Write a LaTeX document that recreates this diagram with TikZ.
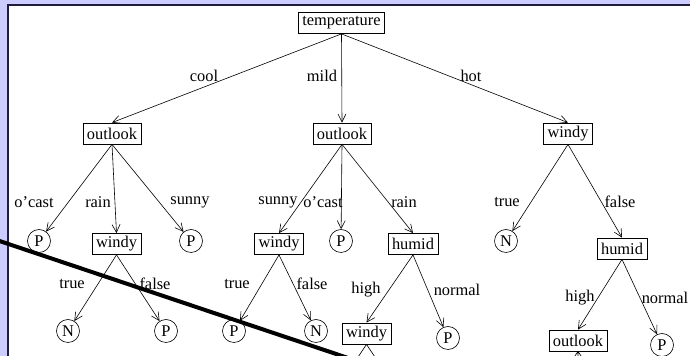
\documentclass[tikz,border=0pt]{standalone}
\usepackage{fontspec}
\setmainfont{Liberation Serif}
\usetikzlibrary{arrows.meta,shapes}
\definecolor{lavender}{RGB}{204,204,255}
\definecolor{framecol}{RGB}{30,30,60}

\begin{document}
\begin{tikzpicture}[x=0.5pt,y=-0.5pt,
  every node/.style={font=\fontsize{8.2}{10}\selectfont},
  test/.style={draw,rectangle,inner xsep=2pt,inner ysep=1pt,minimum height=10.5pt,line width=0.4pt},
  leaf/.style={draw,circle,inner sep=0pt,minimum size=11.5pt,line width=0.3pt},
  branch/.style={->,line width=0.3pt,>={Straight Barb[length=4pt,width=4pt]}},
  val/.style={inner sep=0pt}]
\useasboundingbox (0,0) rectangle (690,356);
\clip (0,0) rectangle (690,356);
% page and frame
\fill[lavender] (0,0) rectangle (690,356);
\fill[white] (8,5) rectangle (690,356);
\draw[framecol,line width=0.8pt] (8,360) -- (8,5) -- (695,5);

% tests
\node[test] (temp) at (341.5,23) {temperature};
\node[test] (ol1) at (112,133.5) {outlook};
\node[test] (ol2) at (342,133.5) {outlook};
\node[test] (wd1) at (568,133.5) {windy};
\node[test] (wd2) at (116.5,244) {windy};
\node[test] (wd3) at (279,244) {windy};
\node[test] (hu1) at (413,244) {humid};
\node[test] (hu2) at (622,248.5) {humid};
\node[test] (wd4) at (366.5,333.5) {windy};
\node[test] (ol3) at (578,340.5) {outlook};

% leaves
\node[leaf] (p1) at (39,241) {P};
\node[leaf] (p2) at (191,241) {P};
\node[leaf] (p3) at (341,241) {P};
\node[leaf] (n1) at (506,241) {N};
\node[leaf] (n2) at (68,331) {N};
\node[leaf] (p4) at (166,331) {P};
\node[leaf] (p5) at (234,331) {P};
\node[leaf] (n3) at (316,331) {N};
\node[leaf] (p6) at (448,338) {P};
\node[leaf] (p7) at (662,345) {P};

% branches
\draw[branch] (temp.south) -- (ol1.north);
\draw[branch] (temp.south) -- (ol2.north);
\draw[branch] (temp.south) -- (wd1.north);
\draw[branch] (ol1.south) -- (p1);
\draw[branch] (ol1.south) -- (wd2.north);
\draw[branch] (ol1.south) -- (p2);
\draw[branch] (ol2.south) -- (wd3.north);
\draw[branch] (ol2.south) -- (p3);
\draw[branch] (ol2.south) -- (hu1.north);
\draw[branch] (wd1.south) -- (n1);
\draw[branch] (wd1.south) -- (hu2.north);
\draw[branch] (wd2.south) -- (n2);
\draw[branch] (wd2.south) -- (p4);
\draw[branch] (wd3.south) -- (p5);
\draw[branch] (wd3.south) -- (n3);
\draw[branch] (hu1.south) -- (wd4.north);
\draw[branch] (hu1.south) -- (p6);
\draw[branch] (hu2.south) -- (ol3.north);
\draw[branch] (hu2.south) -- (p7);
% subtrees running off the page
\draw[line width=0.3pt] (wd4.south) -- +(-20,30) (wd4.south) -- +(20,30);
\draw[line width=0.3pt] (ol3.south) -- +(-20,30) (ol3.south) -- +(0,30) (ol3.south) -- +(20,30);

% branch values
\node[val] at (204,76) {cool};
\node[val] at (322,76) {mild};
\node[val] at (471,76) {hot};
\node[val] at (34,202) {o'cast};
\node[val] at (98,202) {rain};
\node[val] at (190,202) {sunny};
\node[val] at (278,202) {sunny};
\node[val] at (323,202) {o'cast};
\node[val] at (404,202) {rain};
\node[val] at (507,202) {true};
\node[val] at (620,202) {false};
\node[val] at (72,284) {true};
\node[val] at (155,284) {false};
\node[val] at (237,284) {true};
\node[val] at (312,284) {false};
\node[val] at (366,290) {high};
\node[val] at (457,290) {normal};
\node[val] at (580,298) {high};
\node[val] at (665,298) {normal};

% stroke across the page
\draw[line width=2pt] (-5,239.5) -- (360,362);
\end{tikzpicture}
\end{document}
